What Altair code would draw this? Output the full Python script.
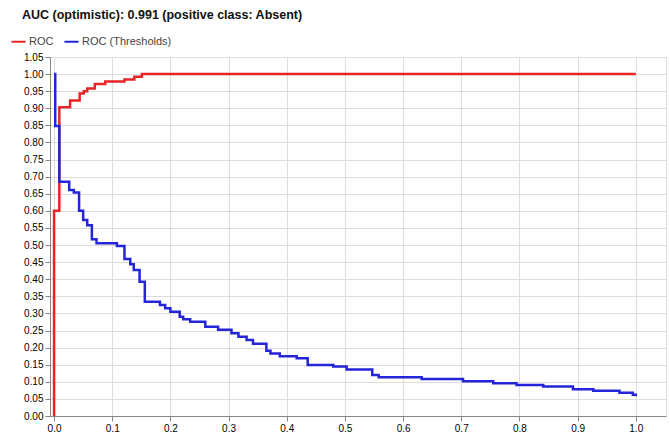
import altair as alt
import pandas as pd

# ROC curve (false positive rate, true positive rate), drawn as a step line
roc_fpr = [0.0, 0.0, 0.009, 0.0275, 0.044, 0.051, 0.057, 0.070, 0.088, 0.121, 0.138, 0.151, 1.0]
roc_tpr = [0.0, 0.600, 0.903, 0.923, 0.943, 0.950, 0.958, 0.971, 0.978, 0.984, 0.992, 1.0, 1.0]

# Threshold curve over the same false positive rate axis
thr_fpr = [0.0, 0.002, 0.009, 0.026, 0.034, 0.043, 0.050, 0.057, 0.065, 0.073,
           0.108, 0.121, 0.131, 0.137, 0.147, 0.156, 0.182, 0.191, 0.200, 0.216,
           0.222, 0.234, 0.260, 0.282, 0.305, 0.317, 0.331, 0.342, 0.365, 0.372,
           0.388, 0.417, 0.436, 0.480, 0.503, 0.547, 0.558, 0.632, 0.703, 0.755,
           0.795, 0.841, 0.892, 0.927, 0.972, 0.995, 1.0]
thr_val = [1.0, 0.848, 0.685, 0.661, 0.654, 0.600, 0.573, 0.558, 0.517, 0.505,
           0.497, 0.459, 0.444, 0.427, 0.393, 0.334, 0.325, 0.315, 0.305, 0.290,
           0.283, 0.276, 0.261, 0.252, 0.242, 0.232, 0.222, 0.211, 0.191, 0.183,
           0.175, 0.169, 0.149, 0.145, 0.136, 0.120, 0.113, 0.108, 0.102, 0.096,
           0.091, 0.086, 0.078, 0.074, 0.068, 0.062, 0.058]

series_names = ["ROC", "ROC (Thresholds)"]
series_colors = ["#e82424", "#2424d8"]

x_ticks = [round(i * 0.1, 1) for i in range(11)]
y_ticks = [round(i * 0.05, 2) for i in range(22)]

rows = []
for i, (x, y) in enumerate(zip(roc_fpr, roc_tpr)):
    rows.append({"series": series_names[0], "idx": i, "fpr": x, "value": y})
for i, (x, y) in enumerate(zip(thr_fpr, thr_val)):
    rows.append({"series": series_names[1], "idx": i, "fpr": x, "value": y})
df = pd.DataFrame(rows)

font = "Liberation Sans"

chart = alt.Chart(df).mark_line(
    interpolate="step-after", strokeWidth=2.5, clip=True
).encode(
    x=alt.X("fpr:Q", scale=alt.Scale(domain=[-0.007, 1.052], nice=False, zero=False),
            axis=alt.Axis(values=x_ticks, format=".1f", title=None)),
    y=alt.Y("value:Q", scale=alt.Scale(domain=[0, 1.05], nice=False),
            axis=alt.Axis(values=y_ticks, format=".2f", title=None)),
    color=alt.Color("series:N",
                    scale=alt.Scale(domain=series_names, range=series_colors),
                    legend=alt.Legend(title=None, orient="none", legendX=-40, legendY=-24,
                                      direction="horizontal", symbolType="stroke",
                                      symbolStrokeWidth=2, symbolSize=200,
                                      labelFont=font, labelFontSize=11,
                                      labelColor="#444", columnPadding=6,
                                      symbolOffset=0, labelOffset=2)),
    detail="series:N",
    order="idx:Q",
).properties(
    width=616,
    height=359,
    padding={"left": 50, "top": 57, "right": 4, "bottom": 20},
    autosize=alt.AutoSizeParams(type="none"),
    title=alt.TitleParams(
        "AUC (optimistic): 0.991 (positive class: Absent)",
        anchor="start", dx=12, offset=12, font=font, fontSize=12.5,
        fontWeight="bold", color="#111",
    ),
).configure_view(
    stroke="#aaa", strokeWidth=1
).configure_axis(
    grid=True, gridColor="#e4e4e4", gridDash=[2, 2],
    domainColor="#999", tickColor="#999", tickSize=3,
    labelFont=font, labelFontSize=11.5, labelColor="#555",
).configure(background="white")

chart.save("out.html", embed_options={"renderer": "svg", "actions": False})
